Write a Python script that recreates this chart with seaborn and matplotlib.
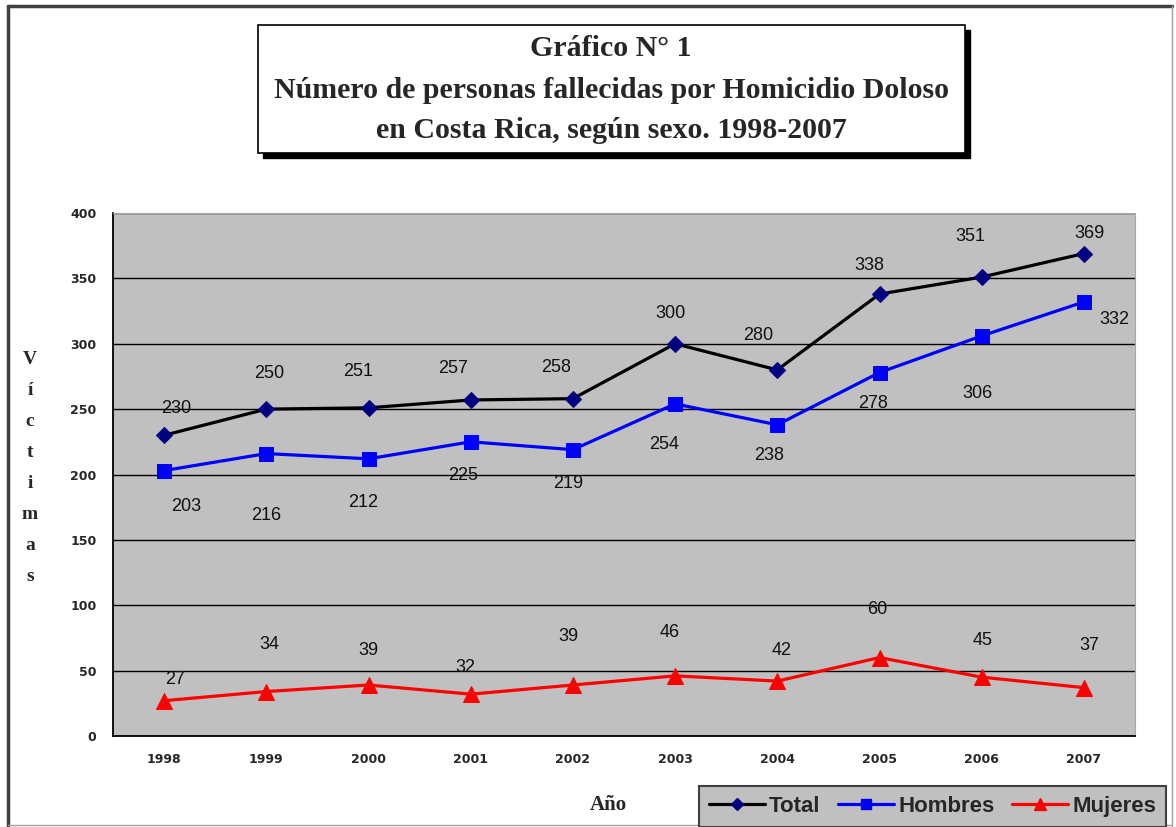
import numpy as np
import pandas as pd
import seaborn as sns
import matplotlib.pyplot as plt
from matplotlib.lines import Line2D
from matplotlib.patches import Rectangle

# data
years = [1998, 1999, 2000, 2001, 2002, 2003, 2004, 2005, 2006, 2007]
total = [230, 250, 251, 257, 258, 300, 280, 338, 351, 369]
hombres = [203, 216, 212, 225, 219, 254, 238, 278, 306, 332]
mujeres = [27, 34, 39, 32, 39, 46, 42, 60, 45, 37]

# label offsets (pixels) as placed in the original chart
off_total = [(12, 27), (3, 36), (-10, 36), (-18, 31), (-17, 31), (-5, 30), (-19, 34), (-10, 29), (-11, 41), (6, 20)]
off_hombres = [(22, -36), (0, -62), (-5, -44), (-8, -34), (-5, -34), (-11, -41), (-8, -31), (-6, -31), (-4, -58), (30, -18)]
off_mujeres = [(11, 21), (3, 47), (0, 35), (-5, 27), (-4, 49), (-5, 43), (4, 31), (-2, 48), (1, 37), (5, 42)]

df = pd.DataFrame({'year': years, 'Total': total, 'Hombres': hombres, 'Mujeres': mujeres})

sns.set_style('white')
W, H = 1176, 827
fig = plt.figure(figsize=(W / 100, H / 100), dpi=100)
ax = fig.add_axes([113 / W, 1 - 736 / H, (1135 - 113) / W, (736 - 213) / H])
ax.set_facecolor('#C0C0C0')

series = [
    ('Total', off_total, dict(color='black', marker='D', markersize=8, markerfacecolor='#000080', markeredgecolor='#000080')),
    ('Hombres', off_hombres, dict(color='#0000FF', marker='s', markersize=10, markerfacecolor='#0000FF', markeredgecolor='#0000FF')),
    ('Mujeres', off_mujeres, dict(color='#FF0000', marker='^', markersize=11, markerfacecolor='#FF0000', markeredgecolor='#FF0000')),
]
for name, offs, kw in series:
    sns.lineplot(data=df, x='year', y=name, ax=ax, linewidth=2.3, label=name, legend=False, **kw)
    for x, y, (dx, dy) in zip(df['year'], df[name], offs):
        ax.annotate(str(y), (x, y), xytext=(dx, dy), textcoords='offset pixels',
                    ha='center', va='center', fontsize=13, family='Liberation Sans', color='#111111')

ax.set_xlim(1997.5, 2007.5)
ax.set_ylim(0, 400)
ax.set_yticks(np.arange(0, 401, 50))
ax.yaxis.grid(True, color='black', linewidth=1.0)
ax.set_axisbelow(True)
ax.set_xticks(np.arange(1997.5, 2008, 1.0))
ax.set_xticklabels([])
ax.set_xticks(years, minor=True)
ax.set_xticklabels([str(y) for y in years], minor=True)
ax.tick_params(axis='x', which='major', direction='out', length=4, width=1.2, color='black')
ax.tick_params(axis='x', which='minor', length=0, pad=12)
ax.tick_params(axis='y', direction='out', length=4, width=1.2, color='black', pad=8)
for lab in ax.get_xticklabels(minor=True) + ax.get_yticklabels():
    lab.set_fontweight('bold')
    lab.set_fontsize(9)
    lab.set_family('DejaVu Sans')
ax.set_xlabel('')
ax.set_ylabel('')
for s in ['left', 'bottom']:
    ax.spines[s].set_color('black')
    ax.spines[s].set_linewidth(1.3)
for s in ['top', 'right']:
    ax.spines[s].set_color('#A8A8A8')
    ax.spines[s].set_linewidth(0.8)

# outer chart frame
fig.add_artist(Line2D([8 / W, 8 / W], [0, 1 - 6 / H], color='#404040', lw=2.5))
fig.add_artist(Line2D([8 / W, 1172 / W], [1 - 6 / H, 1 - 6 / H], color='#404040', lw=2.5))
fig.add_artist(Line2D([1172 / W, 1172 / W], [0, 1 - 6 / H], color='#A0A0A0', lw=1))
fig.add_artist(Line2D([8 / W, 1172 / W], [2 / H, 2 / H], color='#A0A0A0', lw=1))

# title box with shadow
fig.add_artist(Rectangle((263 / W, 1 - 158 / H), (965 - 258) / W, (153 - 25) / H,
                         transform=fig.transFigure, facecolor='black', edgecolor='black'))
fig.add_artist(Rectangle((258 / W, 1 - 153 / H), (965 - 258) / W, (153 - 25) / H,
                         transform=fig.transFigure, facecolor='white', edgecolor='black', lw=1.2))
title_lines = ['Gráfico N° 1', 'Número de personas fallecidas por Homicidio Doloso',
               'en Costa Rica, según sexo. 1998-2007']
for txt, yy in zip(title_lines, [48, 90, 130]):
    fig.text(611 / W, 1 - yy / H, txt, ha='center', va='center', fontsize=21.5,
             fontweight='bold', family='Liberation Serif')

# axis titles
fig.text(30 / W, 1 - 468 / H, '\n'.join('Víctimas'), ha='center', va='center', fontsize=14,
         fontweight='bold', family='Liberation Serif', linespacing=2.08)
fig.text(608 / W, 1 - 805 / H, 'Año', ha='center', va='center', fontsize=15,
         fontweight='bold', family='Liberation Serif')

# legend
handles = [Line2D([], [], **dict(kw, linewidth=2.3, markersize=kw['markersize'] * 0.75)) for _, _, kw in series]
leg = fig.legend(handles, [s[0] for s in series], loc='upper left', bbox_to_anchor=(699 / W, 1 - 786 / H),
                 ncol=3, frameon=True, fancybox=False, framealpha=1, facecolor='#C0C0C0',
                 edgecolor='#404040', handlelength=2.5, handletextpad=0.2, columnspacing=0.8,
                 borderpad=0.45, borderaxespad=0,
                 prop={'family': 'Liberation Sans', 'weight': 'bold', 'size': 16})
leg.get_frame().set_linewidth(1.5)

fig.savefig('out.png', dpi=100)
